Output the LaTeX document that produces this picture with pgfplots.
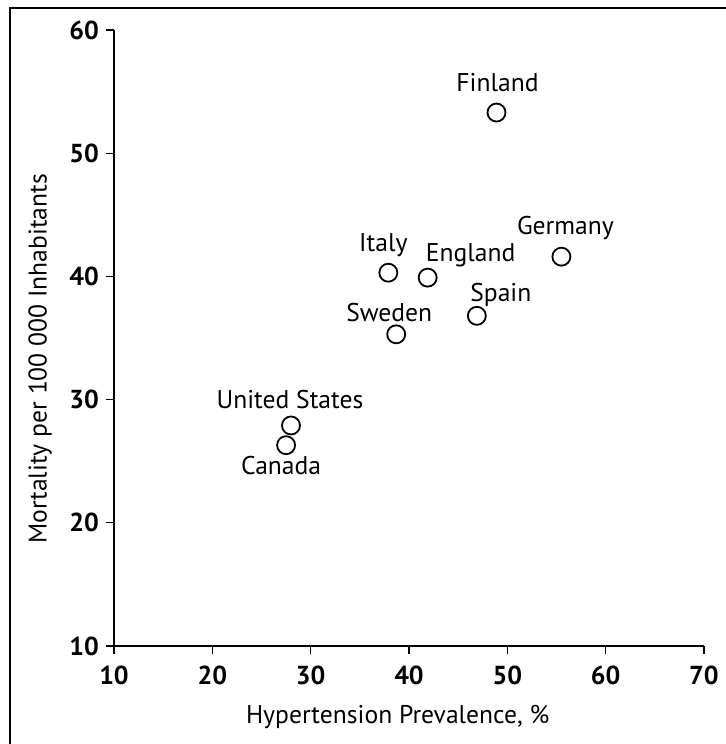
\documentclass[border=0pt]{standalone}
\usepackage{fontspec}
\setmainfont{PT Sans}
\usepackage{pgfplots}
\usepackage{pgfplotstable}
\pgfplotsset{compat=1.18}
\pgfplotstableread[col sep=comma]{
x,y,label,dx,dy
48.9,53.3,Finland,0.5,15
55.5,41.6,Germany,2,14.5
37.9,40.3,Italy,-2.5,14
41.9,39.9,England,21.5,11
46.9,36.8,Spain,12,10.5
38.7,35.3,Sweden,-3.5,11
28.0,27.9,United States,-0.5,13
27.5,26.3,Canada,-2.5,-10
}\datatable
\begin{document}
\begin{tikzpicture}
\path[use as bounding box] (-57pt,-49pt) rectangle (305.5pt,323pt);
\begin{axis}[
 at={(0,0)}, anchor=south west,
 scale only axis, width=295pt, height=308pt,
 xmin=10,xmax=70,ymin=10,ymax=60,
 axis lines=left, axis line style={-, line width=0.6pt},
 xtick={10,20,...,70}, ytick={10,20,...,60},
 tick align=outside, major tick length=4pt, tick style={line width=0.6pt,black},
 ticklabel style={font=\fontsize{13}{15}\selectfont\bfseries},
 xticklabel style={yshift=-2.5pt},
 /pgf/number format/assume math mode=true,
 xlabel={Hypertension Prevalence, \%},
 ylabel={Mortality per 100 000 Inhabitants},
 label style={font=\fontsize{12.8}{15}\selectfont},
 xlabel style={at={(axis description cs:0.481,-0.1153)}, anchor=center},
 ylabel style={at={(axis description cs:-0.1254,0.466)}, anchor=center},
 clip=false,
]
\addplot[only marks, mark=o, mark size=4.5pt, line width=0.9pt, black,
 point meta=explicit symbolic,
 visualization depends on={\thisrow{dx}\as\dx},
 visualization depends on={\thisrow{dy}\as\dy},
 nodes near coords,
 nodes near coords style={anchor=center, xshift=\dx pt, yshift=\dy pt, font=\fontsize{12.8}{15}\selectfont, text=black}
] table[x=x,y=y,meta=label]{\datatable};
\end{axis}
\draw[line width=0.7pt] (-52pt,-60pt) -- (-52pt,319pt) -- (320pt,319pt);
\end{tikzpicture}
\end{document}
